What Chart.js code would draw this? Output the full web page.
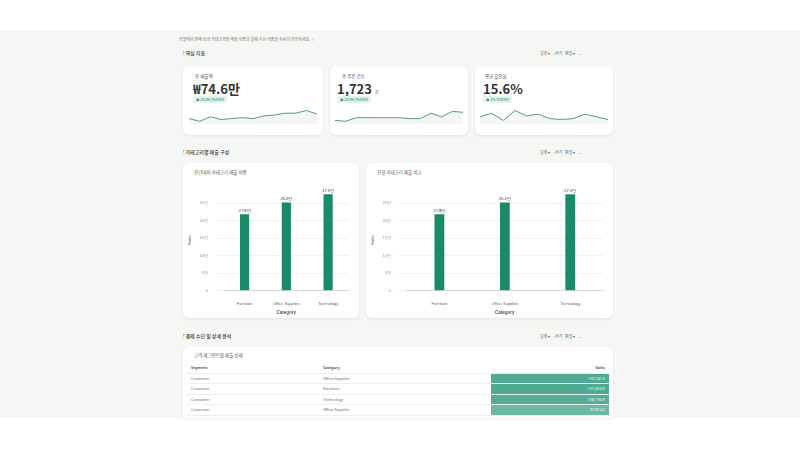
<!DOCTYPE html>
<html><head><meta charset="utf-8">
<script src="https://cdn.jsdelivr.net/npm/chart.js@4"></script>
<style>
body{margin:0;width:800px;height:450px;background:#fff;font-family:"Noto Sans CJK KR","Noto Sans",sans-serif;overflow:hidden;position:relative}
#page{position:absolute;left:0;top:30px;width:800px;height:388px;background:#f6f6f4}
.abs{position:absolute}
.card{position:absolute;background:#fff;border-radius:6px;box-shadow:0 1px 3px rgba(0,0,0,.08)}
.t{font-size:4.5px;color:#555}
.h{font-size:5px;color:#444;font-weight:500}
.ctl{font-size:4px;color:#666}
.big{font-size:13px;font-weight:bold;color:#333}
.badge{font-size:3.5px;color:#1a7f5e;background:#e3f3ec;padding:1px 3px;border-radius:2px}
table{border-collapse:collapse;font-size:3.8px;color:#666;font-family:"Noto Sans","Noto Sans CJK KR",sans-serif}
td,th{height:9.5px;padding:0 4px;border-bottom:1px solid #eee;text-align:left}
th{font-weight:600;color:#444}
</style></head><body>
<div id="page"></div>
<div class="abs t" style="left:179px;top:36px;font-size:4px;color:#777">전월대비 판매 성과 카테고리별 매출 비중과 결제 수단 비중을 자세히 확인하세요 ⓘ</div>

<div class="abs h" style="left:183px;top:49px">⁝ 핵심 지표</div>
<div class="abs ctl" style="left:540px;top:50px">설정 ▾ &nbsp; ‹ 하기 &nbsp; 편집 ▾ &nbsp; ⌄</div>
<div class="card" style="left:183px;top:66px;width:140px;height:69px">
 <div class="abs t" style="left:12px;top:7px">총 매출액</div>
 <div class="abs big" style="left:10px;top:13px">₩74.6만</div>
 <div class="abs badge" style="left:10px;top:30px">▲ 20.4% 전년대비</div>
 <canvas id="s1" class="abs" style="left:6px;top:40px;width:128px;height:22px"></canvas>
</div>
<div class="card" style="left:330px;top:66px;width:138px;height:69px">
 <div class="abs t" style="left:12px;top:7px">총 주문 건수</div>
 <div class="abs big" style="left:7px;top:13px">1,723 <span style="font-size:4px;color:#999">건</span></div>
 <div class="abs badge" style="left:7px;top:30px">▲ 28.6% 전년대비</div>
 <canvas id="s2" class="abs" style="left:5px;top:40px;width:128px;height:22px"></canvas>
</div>
<div class="card" style="left:475px;top:66px;width:138px;height:69px">
 <div class="abs t" style="left:10px;top:7px">평균 할인율</div>
 <div class="abs big" style="left:8px;top:13px">15.6%</div>
 <div class="abs badge" style="left:8px;top:30px">▲ 3% 전년대비</div>
 <canvas id="s3" class="abs" style="left:5px;top:40px;width:128px;height:22px"></canvas>
</div>

<div class="abs h" style="left:183px;top:148px">⁝ 카테고리별 매출 구성</div>
<div class="abs ctl" style="left:540px;top:149px">설정 ▾ &nbsp; ‹ 하기 &nbsp; 편집 ▾ &nbsp; ⌄</div>
<div class="card" style="left:183px;top:163px;width:176px;height:155px">
 <div class="abs t" style="left:11px;top:6px">전년대비 카테고리 매출 비중</div>
 <canvas id="b1" class="abs" style="left:4px;top:16px;width:168px;height:136px"></canvas>
</div>
<div class="card" style="left:366px;top:163px;width:247px;height:155px">
 <div class="abs t" style="left:11px;top:6px">전월 카테고리 매출 비교</div>
 <canvas id="b2" class="abs" style="left:4px;top:16px;width:239px;height:136px"></canvas>
</div>

<div class="abs h" style="left:183px;top:332px">⁝ 결제 수단 및 상세 분석</div>
<div class="abs ctl" style="left:540px;top:333px">설정 ▾ &nbsp; ‹ 하기 &nbsp; 편집 ▾ &nbsp; ⌄</div>
<div class="card" style="left:183px;top:347px;width:430px;height:71px;border-radius:6px 6px 0 0;overflow:hidden">
 <div class="abs t" style="left:11px;top:5px">고객 세그먼트별 매출 상세</div>
 <table id="tbl" class="abs" style="left:4px;top:16px;width:422px"></table>
</div>

<script>
var spark1 = [6, 3, 8, 5, 6, 7, 6, 9, 10, 12, 12, 15, 11];
var spark2 = [4, 3, 7, 7, 7, 7, 7, 6, 6, 12, 8, 14, 13];
var spark3 = [8, 12, 4, 15, 9, 11, 6, 5, 6, 11, 8, 5];

var categories = ["Furniture", "Office Supplies", "Technology"];
var sales1 = [218000, 252000, 275000];
var sales2 = [218000, 252000, 275000];
var yTicks = [0, 50000, 100000, 150000, 200000, 250000];

var segments = ["Consumer", "Consumer", "Consumer", "Corporate"];
var tblCategories = ["Office Supplies", "Furniture", "Technology", "Office Supplies"];
var tblSales = [170741.0, 171650.0, 158190.9, 97874.2];

var green = '#1b8a6b';

function spark(id, data) {
  new Chart(document.getElementById(id), {
    type: 'line',
    data: {
      labels: data.map(function (d, i) { return i; }),
      datasets: [{
        data: data, borderColor: '#4f9e86', borderWidth: 1, pointRadius: 0, tension: 0,
        fill: true, backgroundColor: 'rgba(0,0,0,0.04)'
      }]
    },
    options: {
      responsive: false, animation: false,
      plugins: { legend: { display: false }, tooltip: { enabled: false } },
      scales: { x: { display: false }, y: { display: false, min: 0 } },
      layout: { padding: { bottom: 4 } }
    }
  });
}
spark('s1', spark1);
spark('s2', spark2);
spark('s3', spark3);

var labelPlugin = {
  id: 'vals',
  afterDatasetsDraw: function (chart) {
    var c = chart.ctx;
    c.save();
    c.font = '4px "Noto Sans"';
    c.fillStyle = '#333';
    c.textAlign = 'center';
    chart.getDatasetMeta(0).data.forEach(function (bar, i) {
      var v = chart.data.datasets[0].data[i];
      c.fillText((v / 10000).toFixed(1) + '만', bar.x, bar.y - 2);
    });
    c.restore();
  }
};

function bars(id, data, pct) {
  new Chart(document.getElementById(id), {
    type: 'bar',
    data: { labels: categories, datasets: [{ data: data, backgroundColor: green, barPercentage: pct, categoryPercentage: 1 }] },
    options: {
      responsive: false, animation: false,
      layout: { padding: { top: 2, right: 6 } },
      plugins: { legend: { display: false }, tooltip: { enabled: false } },
      scales: {
        x: { grid: { display: false }, ticks: { font: { size: 4 }, color: '#666' },
             title: { display: true, text: 'Category', font: { size: 4.5, weight: 'bold' }, color: '#555', padding: 0 } },
        y: { min: 0, max: 290000, afterBuildTicks: function (ax) { ax.ticks = yTicks.map(function (v) { return { value: v }; }); },
             grid: { color: '#f1f1f1' }, border: { display: false },
             ticks: { font: { size: 3.5 }, color: '#888', padding: 8, callback: function (v) { return v === 0 ? '0' : (v / 10000) + '만'; } },
             title: { display: true, text: 'Sales', font: { size: 4 }, color: '#555', padding: 0 } }
      }
    },
    plugins: [labelPlugin]
  });
}
bars('b1', sales1, 0.22);
bars('b2', sales2, 0.15);

var maxS = Math.max.apply(null, tblSales);
var html = '<tr><th>Segment</th><th>Category</th><th style="text-align:right">Sales</th></tr>';
for (var i = 0; i < segments.length; i++) {
  var a = 0.55 + 0.35 * tblSales[i] / maxS;
  html += '<tr><td>' + segments[i] + '</td><td>' + tblCategories[i] + '</td><td style="text-align:right;width:110px;color:#fff;background:rgba(60,160,135,' + a.toFixed(2) + ')">' +
    tblSales[i].toLocaleString('en-US', { minimumFractionDigits: 1 }) + '</td></tr>';
}
document.getElementById('tbl').innerHTML = html;
</script>
</body></html>
